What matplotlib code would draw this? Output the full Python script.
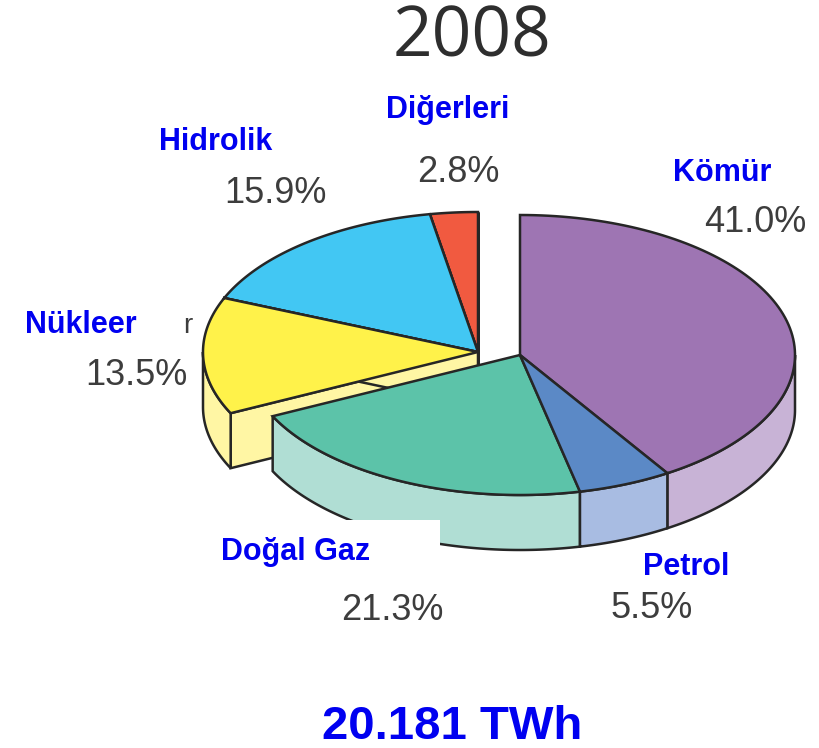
import numpy as np
import matplotlib.pyplot as plt
from matplotlib.patches import Polygon, Rectangle

# 2008 elektrik üretimi kaynak payları (%)
labels = ['Kömür', 'Petrol', 'Doğal Gaz', 'Nükleer', 'Hidrolik', 'Diğerleri']
values = [41.0, 5.5, 21.3, 13.5, 15.9, 2.8]
pct_text = ['41.0%', '5.5%', '21.3%', '13.5%', '15.9%', '2.8%']
top_colors = ['#9e75b3', '#5b89c6', '#5cc3a9', '#fff24a', '#42c7f3', '#f15a40']
side_colors = ['#c8b3d6', '#a8bce2', '#b0ded4', '#fff6a4', '#a6e2f8', '#f7ab9d']
# dilimlerin kaydırılması (piksel)
offsets = [(0, 0), (0, 0), (0, 0), (-42, -3), (-42, -3), (-42, -3)]
label_pos = [(722, 173), (686, 567), (296, 552), (81, 325), (216, 142), (448, 110)]
pct_pos = [(755, 222), (652, 608), (392, 610), (136, 375), (275, 193), (458, 172)]
title = '2008'
total = '20.181 TWh'

cx, cy, a, b, depth = 520, 355, 275, 140, 55
edge = '#262626'

fig = plt.figure(figsize=(8.19, 7.48), dpi=100)
ax = fig.add_axes([0, 0, 1, 1])
ax.set_xlim(0, 819)
ax.set_ylim(748, 0)
ax.axis('off')


def rim(th, ox, oy):
    # th: saat yönünde, tepeden itibaren (derece)
    t = np.radians(th)
    return cx + ox + a * np.sin(t), cy + oy - b * np.cos(t)


cum = np.concatenate([[0], np.cumsum(values)]) / sum(values) * 360
mids = (cum[:-1] + cum[1:]) / 2
order = sorted(range(len(values)), key=lambda i: -np.cos(np.radians(mids[i])) + offsets[i][1] / b)

for i in order:
    th1, th2 = cum[i], cum[i + 1]
    ox, oy = offsets[i]
    px, py = cx + ox, cy + oy
    ths = np.linspace(th1, th2, 100)
    xs, ys = rim(ths, ox, oy)
    # radyal yüzler (sadece kaydırılmış dilimlerde görünür)
    if ox or oy:
        for th in (th1, th2):
            rx, ry = rim(th, ox, oy)
            ax.add_patch(Polygon([(px, py), (rx, ry), (rx, ry + depth), (px, py + depth)],
                                 closed=True, fc=side_colors[i], ec=edge, lw=1.8, zorder=2))
    # dış yan yüz (görünen ön kısım)
    lo, hi = max(th1, 90), min(th2, 270)
    if hi > lo:
        st = np.linspace(lo, hi, 100)
        sx, sy = rim(st, ox, oy)
        pts = list(zip(sx, sy)) + list(zip(sx[::-1], sy[::-1] + depth))
        ax.add_patch(Polygon(pts, closed=True, fc=side_colors[i], ec=edge, lw=1.8, zorder=2))
    # üst yüz
    pts = [(px, py)] + list(zip(xs, ys))
    ax.add_patch(Polygon(pts, closed=True, fc=top_colors[i], ec=edge, lw=1.8, zorder=2))

# Doğal Gaz etiketinin beyaz arka planı
ax.add_patch(Rectangle((190, 520), 250, 60, fc='white', ec='none', zorder=3))

for i in range(len(values)):
    ax.text(label_pos[i][0], label_pos[i][1], labels[i], ha='center', va='center',
            fontsize=22, fontweight='bold', color='#0000f0', family='Liberation Sans', zorder=4)
    ax.text(pct_pos[i][0], pct_pos[i][1], pct_text[i], ha='center', va='center',
            fontsize=26, color='#3d3d3d', family='Liberation Sans', zorder=4)

ax.text(188, 326, 'r', ha='center', va='center', fontsize=20, color='#3d3d3d',
        family='Liberation Sans', zorder=4)
ax.text(472, 38, title, ha='center', va='center', fontsize=50, color='#2e2e2e',
        family='Open Sans', zorder=4)
ax.text(452, 727, total, ha='center', va='center', fontsize=34, fontweight='bold',
        color='#0000f0', family='Liberation Sans', zorder=4)

fig.savefig('out.png', dpi=100)
